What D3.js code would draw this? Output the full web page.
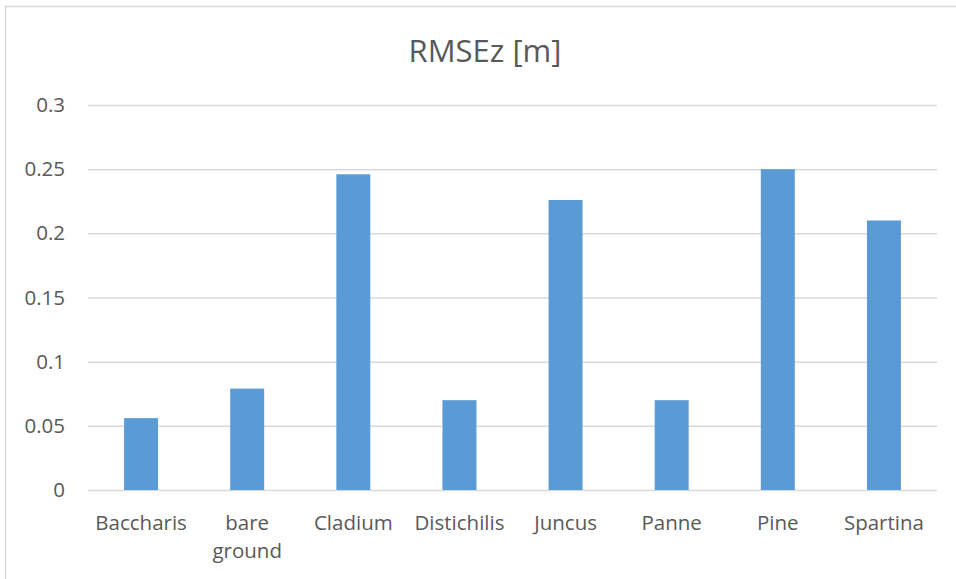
<!DOCTYPE html>
<html>
<head>
<meta charset="utf-8">
<script src="https://cdn.jsdelivr.net/npm/d3@7"></script>
<style>
  html, body { margin: 0; padding: 0; background: #fff; }
  svg { display: block; }
  text { font-family: "Open Sans", "Noto Sans", sans-serif; }
</style>
</head>
<body>
<svg id="chart" width="956" height="579"></svg>
<script>
// RMSEz per land-cover class
const categories = ["Baccharis", "bare ground", "Cladium", "Distichilis", "Juncus", "Panne", "Pine", "Spartina"];
const rmseValues = [0.056, 0.079, 0.246, 0.07, 0.226, 0.07, 0.25, 0.21];
const yTicks = [0, 0.05, 0.1, 0.15, 0.2, 0.25, 0.3];
const yTickLabels = ["0", "0.05", "0.1", "0.15", "0.2", "0.25", "0.3"];
const chartTitle = "RMSEz [m]";

const W = 956, H = 579;
const margin = { left: 88, right: 19, top: 105, bottom: 89 };
const svg = d3.select("#chart");

// outer chart frame (top and left edges)
svg.append("path")
  .attr("d", `M5.5,${H} V6.5 H${W}`)
  .attr("fill", "none")
  .attr("stroke", "#d9d9d9")
  .attr("stroke-width", 1.5);

const x = d3.scaleBand()
  .domain(categories)
  .range([margin.left, W - margin.right])
  .paddingInner(0.68)
  .paddingOuter(0.34);

const y = d3.scaleLinear()
  .domain([0, 0.3])
  .range([H - margin.bottom, margin.top]);

// horizontal gridlines
const yAxis = d3.axisLeft(y)
  .tickValues(yTicks)
  .tickFormat((d, i) => yTickLabels[i])
  .tickSize(-(W - margin.left - margin.right))
  .tickPadding(23);

const gy = svg.append("g")
  .attr("transform", `translate(${margin.left},0)`)
  .call(yAxis);
gy.select(".domain").remove();
gy.selectAll(".tick line").attr("stroke", "#d9d9d9").attr("stroke-width", 1.5);
gy.selectAll(".tick text")
  .attr("fill", "#595959")
  .style("font-size", "20.5px");

// bars
svg.append("g")
  .selectAll("rect")
  .data(categories)
  .join("rect")
  .attr("x", d => x(d))
  .attr("width", x.bandwidth())
  .attr("y", (d, i) => y(rmseValues[i]))
  .attr("height", (d, i) => y(0) - y(rmseValues[i]))
  .attr("fill", "#5b9bd5");

// category labels (wrapped onto two lines where needed)
const xAxis = d3.axisBottom(x).tickSize(0).tickPadding(0);
const gx = svg.append("g")
  .attr("transform", `translate(0,${y(0)})`)
  .call(xAxis);
gx.select(".domain").remove();
gx.selectAll(".tick text").each(function(d) {
  const t = d3.select(this);
  t.text(null)
    .attr("fill", "#595959")
    .attr("dy", null)
    .attr("y", 0)
    .style("font-size", "20.5px");
  const words = d === "bare ground" ? ["bare", "ground"] : [d];
  words.forEach((w, i) => {
    t.append("tspan")
      .attr("x", 0)
      .attr("y", 40 + i * 28)
      .text(w);
  });
});

// title
svg.append("text")
  .attr("x", 485)
  .attr("y", 62)
  .attr("text-anchor", "middle")
  .attr("fill", "#595959")
  .style("font-size", "31px")
  .text(chartTitle);
</script>
</body>
</html>
